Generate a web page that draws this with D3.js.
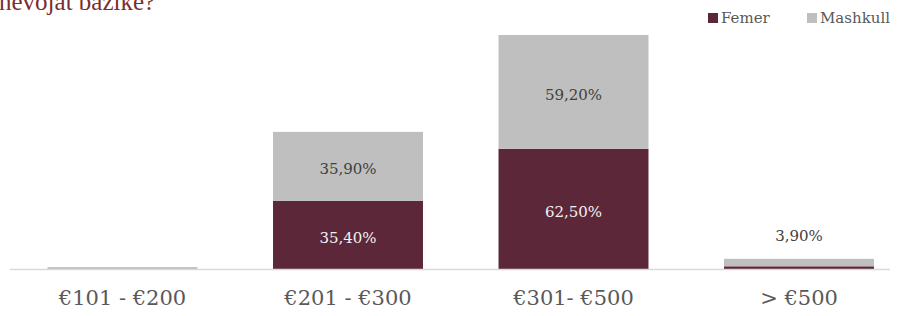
<!DOCTYPE html>
<html>
<head>
<meta charset="utf-8">
<script src="https://cdn.jsdelivr.net/npm/d3@7"></script>
<style>
  body { margin: 0; background: #fff; }
  svg { display: block; }
</style>
</head>
<body>
<svg id="chart"></svg>
<script>
// data
const categories = ['€101 - €200', '€201 - €300', '€301- €500', '> €500'];
const femer = [0, 35.4, 62.5, 1.4];
const mashkull = [1.0, 35.9, 59.2, 3.9];
const femerLabels = [null, '35,40%', '62,50%', null];
const mashkullLabels = [null, '35,90%', '59,20%', '3,90%'];
const seriesNames = ['Femer', 'Mashkull'];

const W = 900, H = 316;
const baseY = 269;
const font = "Georgia, 'DejaVu Serif', serif";

const svg = d3.select('#chart').attr('width', W).attr('height', H);

const x = d3.scaleBand()
    .domain(categories)
    .range([9.75, 911.75])
    .paddingInner(0.335)
    .paddingOuter(0.1675);

const y = d3.scaleLinear()
    .domain([0, 121.7])
    .range([baseY, 35]);

const color = d3.scaleOrdinal().domain(seriesNames).range(['#5c2739', '#bfbfbf']);

const rows = categories.map((c, i) => ({cat: c, Femer: femer[i], Mashkull: mashkull[i], i}));
const stacked = d3.stack().keys(seriesNames)(rows);

// title (cut off at top, as in the original)
svg.append('text')
    .attr('x', -1)
    .attr('y', 10)
    .attr('font-family', "'Liberation Serif', serif")
    .attr('font-size', 25)
    .attr('fill', '#7b2d2d')
    .text('nevojat bazike?');

// bars
svg.selectAll('g.series')
  .data(stacked)
  .join('g')
    .attr('class', 'series')
    .attr('fill', d => color(d.key))
  .selectAll('rect')
  .data(d => d)
  .join('rect')
    .attr('x', d => x(d.data.cat))
    .attr('width', x.bandwidth())
    .attr('y', d => y(d[1]))
    .attr('height', d => y(d[0]) - y(d[1]));

// baseline
svg.append('line')
    .attr('x1', 10).attr('x2', 890)
    .attr('y1', baseY + 0.5).attr('y2', baseY + 0.5)
    .attr('stroke', '#d9d9d9')
    .attr('stroke-width', 1.5);

// value labels
const fs = stacked[0], ms = stacked[1];
categories.forEach((c, i) => {
  const cx = x(c) + x.bandwidth() / 2;
  if (femerLabels[i]) {
    svg.append('text')
      .attr('x', cx)
      .attr('y', (y(fs[i][0]) + y(fs[i][1])) / 2 + 8)
      .attr('text-anchor', 'middle')
      .attr('font-family', font)
      .attr('font-size', 15)
      .attr('fill', '#f2f2f2')
      .text(femerLabels[i]);
  }
  if (mashkullLabels[i]) {
    const inside = (y(ms[i][0]) - y(ms[i][1])) > 20;
    svg.append('text')
      .attr('x', cx)
      .attr('y', inside ? (y(ms[i][0]) + y(ms[i][1])) / 2 + 8 : y(ms[i][1]) - 18)
      .attr('text-anchor', 'middle')
      .attr('font-family', font)
      .attr('font-size', 15)
      .attr('fill', '#404040')
      .text(mashkullLabels[i]);
  }
});

// x axis labels
svg.append('g')
  .selectAll('text')
  .data(categories)
  .join('text')
    .attr('x', d => x(d) + x.bandwidth() / 2)
    .attr('y', 305)
    .attr('text-anchor', 'middle')
    .attr('font-family', font)
    .attr('font-size', 21)
    .attr('fill', '#595959')
    .text(d => d);

// legend
const legend = svg.append('g').attr('transform', 'translate(708, 0)');
const legX = [0, 99];
seriesNames.forEach((s, i) => {
  legend.append('rect')
    .attr('x', legX[i]).attr('y', 13)
    .attr('width', 10).attr('height', 10)
    .attr('fill', color(s));
  legend.append('text')
    .attr('x', legX[i] + 13)
    .attr('y', 23)
    .attr('font-family', font)
    .attr('font-size', 15)
    .attr('fill', '#595959')
    .text(s);
});
</script>
</body>
</html>
